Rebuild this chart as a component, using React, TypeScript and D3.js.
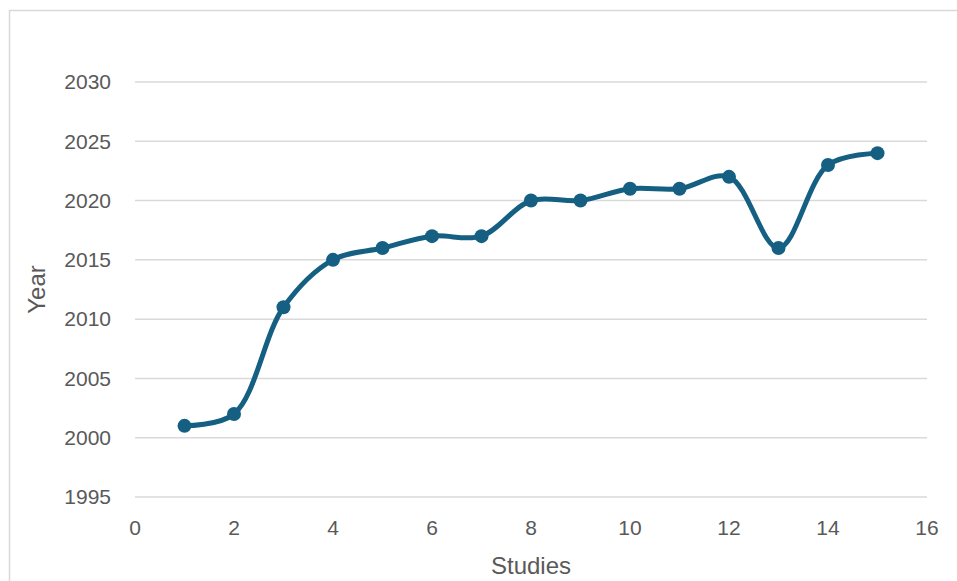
import React from "react";
import * as d3 from "d3";

// Study index vs publication year
const studies = [1, 2, 3, 4, 5, 6, 7, 8, 9, 10, 11, 12, 13, 14, 15];
const years = [2001, 2002, 2011, 2015, 2016, 2017, 2017, 2020, 2020, 2021, 2021, 2022, 2016, 2023, 2024];
const xTicks = [0, 2, 4, 6, 8, 10, 12, 14, 16];
const yTicks = [1995, 2000, 2005, 2010, 2015, 2020, 2025, 2030];

const W = 957;
const H = 581;
const LEFT = 135;
const RIGHT = 927;
const TOP = 82;
const BOTTOM = 497;

const LINE = "#156082";
const GRID = "#d9d9d9";
const TEXT = "#595959";
const FONT = "'Liberation Sans', Arial, sans-serif";

export default function App() {
  const x = d3.scaleLinear().domain([0, 16]).range([LEFT, RIGHT]);
  const y = d3.scaleLinear().domain([1995, 2030]).range([BOTTOM, TOP]);
  const points = studies.map((s, i) => [s, years[i]] as [number, number]);
  const line = d3
    .line<[number, number]>()
    .x((d) => x(d[0]))
    .y((d) => y(d[1]))
    .curve(d3.curveCatmullRom.alpha(0.5));

  return (
    <div style={{ position: "absolute", left: 0, top: 0 }}>
      <svg width={W} height={H} style={{ display: "block", background: "#fff" }}>
        <rect x={9.5} y={10.5} width={W + 20} height={H + 20} fill="#fff" stroke={GRID} strokeWidth={1.5} />
        {yTicks.map((t) => (
          <g key={t}>
            <line x1={LEFT} x2={RIGHT} y1={y(t)} y2={y(t)} stroke={GRID} strokeWidth={1.5} />
            <text
              x={111}
              y={y(t)}
              dy="0.35em"
              textAnchor="end"
              fontFamily={FONT}
              fontSize={21}
              fill={TEXT}
            >
              {t}
            </text>
          </g>
        ))}
        {xTicks.map((t) => (
          <text
            key={t}
            x={x(t)}
            y={535}
            textAnchor="middle"
            fontFamily={FONT}
            fontSize={21}
            fill={TEXT}
          >
            {t}
          </text>
        ))}
        <text x={(LEFT + RIGHT) / 2} y={574} textAnchor="middle" fontFamily={FONT} fontSize={24} fill={TEXT}>
          Studies
        </text>
        <text
          transform={`translate(45, ${(TOP + BOTTOM) / 2}) rotate(-90)`}
          textAnchor="middle"
          fontFamily={FONT}
          fontSize={24}
          fill={TEXT}
        >
          Year
        </text>
        <path d={line(points) ?? ""} fill="none" stroke={LINE} strokeWidth={5} strokeLinejoin="round" strokeLinecap="round" />
        {points.map((p, i) => (
          <circle key={i} cx={x(p[0])} cy={y(p[1])} r={7} fill={LINE} />
        ))}
      </svg>
    </div>
  );
}
